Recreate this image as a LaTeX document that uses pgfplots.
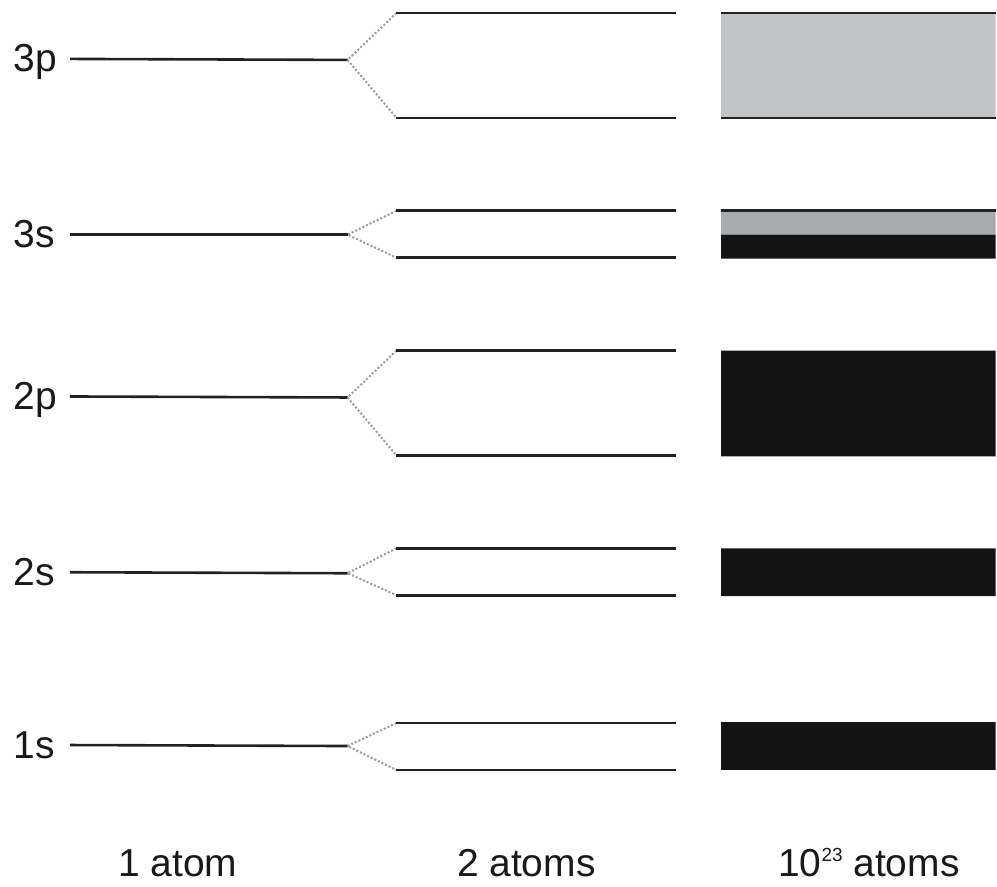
\documentclass[border=0pt]{standalone}
\usepackage{fontspec}
\setmainfont{Liberation Sans}
\usepackage{pgfplots}
\pgfplotsset{compat=1.18}
\definecolor{lvl}{HTML}{222222}
\definecolor{dots}{HTML}{9A9A9A}
\definecolor{band}{HTML}{141414}
\definecolor{greyA}{HTML}{C3C4C6}
\definecolor{greyB}{HTML}{A9ACAE}
\tikzset{
  lvlline/.style={color=lvl, line width=1.3pt},
  split/.style={color=dots, line width=1pt, dash pattern=on 1pt off 1pt},
  lbl/.style={font=\fontsize{19.5}{22}\selectfont, inner sep=0pt, text=black!90},
}
\begin{document}
\begin{tikzpicture}
\begin{axis}[
  width=498.5pt, height=444pt, scale only axis,
  xmin=0, xmax=997, ymin=0, ymax=888, y dir=reverse,
  hide axis, clip=false, no markers,
]
\path (axis cs:0,0) rectangle (axis cs:997,888);
% ---- 10^23 atoms bands ----
\addplot[draw=none, fill=greyA] coordinates {(722,13) (997,13) (997,118) (722,118) (722,13)};
\addplot[draw=none, fill=greyB] coordinates {(722,211) (997,211) (997,235) (722,235) (722,211)};
\addplot[draw=none, fill=band] coordinates {(722,235) (997,235) (997,259) (722,259) (722,235)};
\addplot[draw=none, fill=band] coordinates {(722,351) (997,351) (997,457) (722,457) (722,351)};
\addplot[draw=none, fill=band] coordinates {(722,549) (997,549) (997,597) (722,597) (722,549)};
\addplot[draw=none, fill=band] coordinates {(722,723) (997,723) (997,771) (722,771) (722,723)};
\addplot[lvlline] coordinates {(722,13) (997,13)};
\addplot[lvlline] coordinates {(722,118) (997,118)};
\addplot[lvlline] coordinates {(722,211) (997,211)};
% ---- 1 atom levels ----
\addplot[lvlline] coordinates {(70,59) (348,60)};
\addplot[lvlline] coordinates {(70,235) (348,235)};
\addplot[lvlline] coordinates {(70,397) (348,398)};
\addplot[lvlline] coordinates {(70,573) (348,574)};
\addplot[lvlline] coordinates {(70,746) (348,747)};
% ---- splitting (dotted) ----
\addplot[split] coordinates {(397,13) (348,60) (397,118)};
\addplot[split] coordinates {(397,211) (348,235) (397,258)};
\addplot[split] coordinates {(397,351) (348,398) (397,456)};
\addplot[split] coordinates {(397,549) (348,574) (397,596)};
\addplot[split] coordinates {(397,724) (348,747) (397,771)};
% ---- 2 atoms levels ----
\addplot[lvlline] coordinates {(397,13) (677,13)};
\addplot[lvlline] coordinates {(397,118) (677,118)};
\addplot[lvlline] coordinates {(397,211) (677,211)};
\addplot[lvlline] coordinates {(397,258) (677,258)};
\addplot[lvlline] coordinates {(397,351) (677,351)};
\addplot[lvlline] coordinates {(397,456) (677,456)};
\addplot[lvlline] coordinates {(397,549) (677,549)};
\addplot[lvlline] coordinates {(397,596) (677,596)};
\addplot[lvlline] coordinates {(397,724) (677,724)};
\addplot[lvlline] coordinates {(397,771) (677,771)};
% ---- labels ----
\node[lbl, anchor=base west] at (axis cs:13,72) {3p};
\node[lbl, anchor=base west] at (axis cs:13,248) {3s};
\node[lbl, anchor=base west] at (axis cs:13,410) {2p};
\node[lbl, anchor=base west] at (axis cs:13,586) {2s};
\node[lbl, anchor=base west] at (axis cs:13,759) {1s};
\node[lbl, anchor=base] at (axis cs:178,878) {1 atom};
\node[lbl, anchor=base] at (axis cs:527,878) {2 atoms};
\node[lbl, anchor=base] at (axis cs:870,878) {10\raisebox{7.5pt}{\fontsize{9.5}{10}\selectfont 23} atoms};
\end{axis}
\end{tikzpicture}
\end{document}
